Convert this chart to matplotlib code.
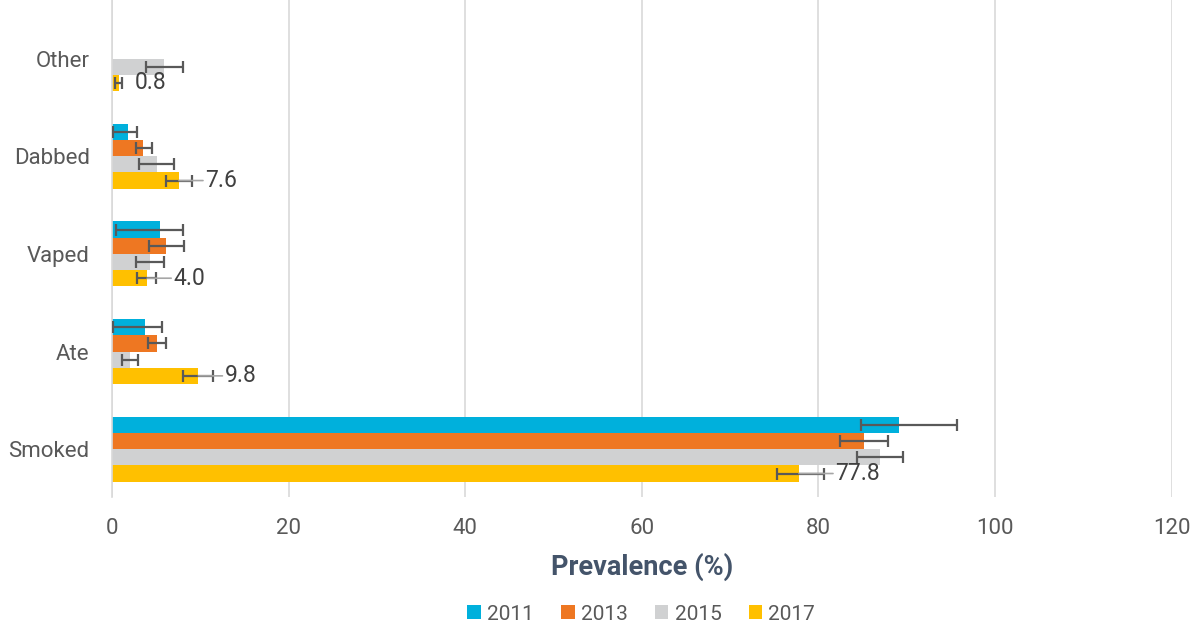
import numpy as np
import matplotlib.pyplot as plt

plt.rcParams.update({"font.family": ["Roboto", "DejaVu Sans"], "figure.dpi": 100})

categories = ["Smoked", "Ate", "Vaped", "Dabbed", "Other"]
years = ["2011", "2013", "2015", "2017"]
colors = ["#00B0DC", "#EE7722", "#D0D1D2", "#FFC000"]

# prevalence (%) and error bounds per year, same order as categories
val_2011 = [89.1, 3.7, 5.4, 1.8, np.nan]
lo_2011 = [84.8, 0.1, 0.5, 0.1, np.nan]
hi_2011 = [95.7, 5.7, 8.1, 2.9, np.nan]

val_2013 = [85.2, 5.1, 6.1, 3.5, np.nan]
lo_2013 = [82.4, 4.1, 4.2, 2.7, np.nan]
hi_2013 = [87.9, 6.1, 8.2, 4.5, np.nan]

val_2015 = [87.0, 2.0, 4.3, 5.1, 5.9]
lo_2015 = [84.4, 1.2, 2.7, 3.1, 3.9]
hi_2015 = [89.6, 3.0, 5.9, 7.0, 8.0]

val_2017 = [77.8, 9.8, 4.0, 7.6, 0.8]
lo_2017 = [75.3, 8.1, 2.9, 6.1, 0.3]
hi_2017 = [80.6, 11.4, 5.0, 9.1, 1.1]

series = [(val_2011, lo_2011, hi_2011), (val_2013, lo_2013, hi_2013),
          (val_2015, lo_2015, hi_2015), (val_2017, lo_2017, hi_2017)]

fig = plt.figure(figsize=(12.03, 6.26))
ax = fig.add_axes([0.093, 0.206, 0.881, 0.794])

y = np.arange(len(categories))
h = 0.166
for i, (vals, lo, hi) in enumerate(series):
    v = np.array(vals)
    err = [v - np.array(lo), np.array(hi) - v]
    pos = y + (1.5 - i) * h
    ax.barh(pos, v, height=h, color=colors[i], label=years[i], zorder=2)
    ax.errorbar(v, pos, xerr=err, fmt="none", ecolor="#595959", elinewidth=1.6,
                capsize=4.5, capthick=1.6, zorder=3)

# data labels for 2017 with leader lines
pos17 = y - 1.5 * h
for k, v in enumerate(val_2017):
    off = 36 if v > 50 else (16 if v < 1 else 26)
    if v >= 1:
        ax.annotate("", xy=(v, pos17[k]), xytext=(off - 2, 0), textcoords="offset pixels",
                    arrowprops=dict(arrowstyle="-", color="#A6A6A6", lw=1.2,
                                    shrinkA=0, shrinkB=0), zorder=4)
    ax.annotate(f"{v:.1f}", xy=(v, pos17[k]), xytext=(off, 0), textcoords="offset pixels",
                ha="left", va="center", fontsize=16.5, color="#404040", zorder=5)

ax.set_xlim(0, 120)
ax.set_ylim(-0.49, 4.6)
ax.set_xticks(np.arange(0, 121, 20))
ax.set_yticks(y)
ax.set_yticklabels(categories)
ax.grid(axis="x", color="#D9D9D9", lw=1.2, zorder=0)
ax.set_axisbelow(True)
for s in ["top", "right", "bottom"]:
    ax.spines[s].set_visible(False)
ax.spines["left"].set_color("#D9D9D9")
ax.spines["left"].set_linewidth(1.2)
ax.tick_params(axis="both", length=0, labelsize=16, labelcolor="#595959")
ax.tick_params(axis="y", pad=16)
ax.tick_params(axis="x", pad=15)
ax.set_xlabel("Prevalence (%)", fontsize=19.5, fontweight="bold", color="#44546A", labelpad=10)

fig.legend(loc="lower center", bbox_to_anchor=(0.533, -0.026), ncol=4, frameon=False,
           fontsize=15, labelcolor="#595959", handlelength=0.65, handleheight=0.65,
           handletextpad=0.3, columnspacing=1.3)

plt.savefig("out.png", dpi=100)
